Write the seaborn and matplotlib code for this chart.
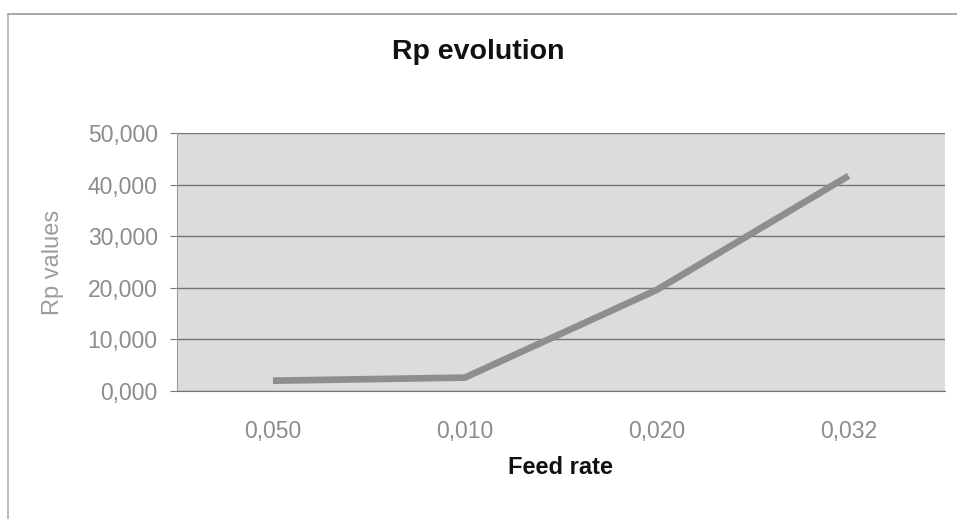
import matplotlib
matplotlib.use("Agg")
import matplotlib.pyplot as plt
import seaborn as sns
import pandas as pd
from matplotlib.ticker import FuncFormatter, FixedLocator

feed_rates = ["0,050", "0,010", "0,020", "0,032"]
rp_values = [2000, 2600, 19600, 41700]

df = pd.DataFrame({"feed": feed_rates, "rp": rp_values})

sns.set_style("white")
plt.rcParams["font.family"] = ["Liberation Sans", "DejaVu Sans"]

fig = plt.figure(figsize=(9.57, 5.19), dpi=100)
ax = fig.add_axes([0.185, 0.2466, 0.802, 0.497])
ax.set_facecolor("#dcdcdc")

sns.lineplot(data=df, x="feed", y="rp", ax=ax, color="#8e8e8e", linewidth=4.8,
             solid_capstyle="butt")

ax.set_xlim(-0.5, 3.5)
ax.set_ylim(0, 50000)
ax.set_yticks(range(0, 50001, 10000))
ax.yaxis.set_major_formatter(FuncFormatter(lambda v, p: f"{int(v / 1000)},000"))
ax.grid(axis="y", color="#747474", linewidth=1)
ax.set_axisbelow(True)

ax.xaxis.set_minor_locator(FixedLocator([-0.5, 0.5, 1.5, 2.5, 3.5]))
ax.tick_params(axis="x", which="major", length=0, pad=21, labelsize=16.5, labelcolor="#8c8c8c")
ax.tick_params(axis="x", which="minor", length=5, color="#9a9a9a", direction="out")
ax.tick_params(axis="y", length=5, color="#7a7a7a", direction="out", left=True,
               labelsize=16.5, labelcolor="#8c8c8c", pad=9)

for s in ["top", "right"]:
    ax.spines[s].set_visible(False)
ax.spines["left"].set_color("#9a9a9a")
ax.spines["bottom"].set_color("#747474")

ax.set_xlabel("Feed rate", fontsize=17, fontweight="bold", color="#111111", va="center")
ax.xaxis.set_label_coords(0.5, -0.295)
ax.set_ylabel("Rp values", fontsize=17, color="#9c9c9c", va="center")
ax.yaxis.set_label_coords(-0.161, 0.5)
fig.text(0.5, 0.9, "Rp evolution", ha="center", va="center", fontsize=20.5,
         fontweight="bold", color="#111111")

# chart frame
fig.add_artist(plt.Line2D([8/957, 8/957], [0, 1 - 14/519], color="#b0b0b0", linewidth=1.2))
fig.add_artist(plt.Line2D([8/957, 1], [1 - 14/519, 1 - 14/519], color="#9a9a9a", linewidth=1.2))

fig.savefig("out.png", dpi=100)
